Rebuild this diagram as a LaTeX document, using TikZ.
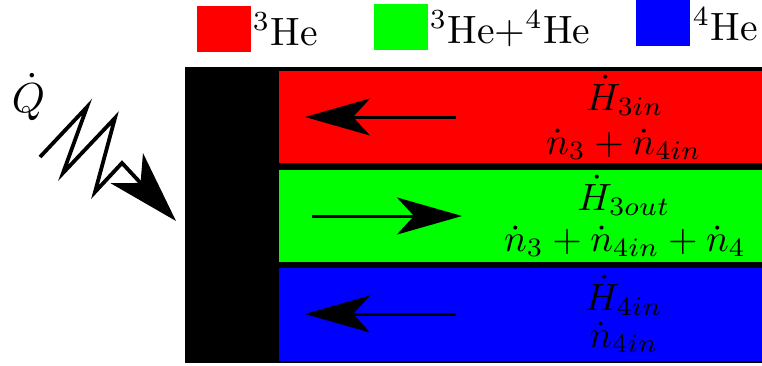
\documentclass[tikz,border=0pt]{standalone}
\usetikzlibrary{arrows.meta}
\begin{document}
\begin{tikzpicture}[x=1pt,y=-1pt,
  band/.style={draw=none,inner sep=0pt,outer sep=0pt,anchor=north west},
  lbl/.style={inner sep=0pt,anchor=base,font=\normalsize,scale=3.8},
  leg/.style={inner sep=0pt,anchor=base west,font=\normalsize,scale=3.95},
  flow/.style={line width=3pt,-{Stealth[length=65pt,width=37pt,inset=17pt]}},
  heat/.style={line width=3.8pt,line join=miter,-{Stealth[length=72pt,width=44pt,inset=20pt]}}]
\useasboundingbox (0,0) rectangle (762,365);
% legend
\node[band,fill=red,minimum width=54pt,minimum height=46pt] (legR) at (197,6) {};
\node[leg] (legRt) at (252,45) {$^3$He};
\node[band,fill=green,minimum width=54pt,minimum height=46pt] (legG) at (374,4) {};
\node[leg] (legGt) at (429,43) {$^3$He+$^4$He};
\node[band,fill=blue,minimum width=54pt,minimum height=46pt] (legB) at (636,0) {};
\node[leg] (legBt) at (692,40) {$^4$He};
% exchanger body
\node[band,fill=black,minimum width=577pt,minimum height=296pt] (body) at (185,67) {};
\node[band,fill=red,minimum width=483pt,minimum height=92pt] (bR) at (279,71) {};
\node[band,fill=green,minimum width=483pt,minimum height=92pt] (bG) at (279,170) {};
\node[band,fill=blue,minimum width=483pt,minimum height=93pt] (bB) at (279,268) {};
% flow arrows
\coordinate (r1) at (456,117); \coordinate (r2) at (305,117);
\coordinate (g1) at (312,216); \coordinate (g2) at (462,216);
\coordinate (b1) at (456,314); \coordinate (b2) at (305,314);
\draw[flow] (r1) -- (r2);
\draw[flow] (g1) -- (g2);
\draw[flow] (b1) -- (b2);
% labels
\node[lbl] (tR1) at (625,110) {$\dot{H}_{3in}$};
\node[lbl] (tR2) at (624,154) {$\dot{n}_3+\dot{n}_{4in}$};
\node[lbl] (tG1) at (624,210) {$\dot{H}_{3out}$};
\node[lbl] (tG2) at (625,251) {$\dot{n}_3+\dot{n}_{4in}+\dot{n}_4$};
\node[lbl] (tB1) at (624,310) {$\dot{H}_{4in}$};
\node[lbl] (tB2) at (624,347) {$\dot{n}_{4in}$};
% heat input
\node[inner sep=0pt,anchor=base west,font=\normalsize,scale=4.2] (Q) at (11,112) {$\dot{Q}$};
\coordinate (z0) at (40,157); \coordinate (z1) at (87,107);
\coordinate (z2) at (63,173); \coordinate (z3) at (115,118);
\coordinate (z4) at (95,192); \coordinate (z5) at (122,163);
\coordinate (z6) at (176,221);
\draw[heat] (z0) -- (z1) -- (z2) -- (z3) -- (z4) -- (z5) -- (z6);
\end{tikzpicture}
\end{document}
